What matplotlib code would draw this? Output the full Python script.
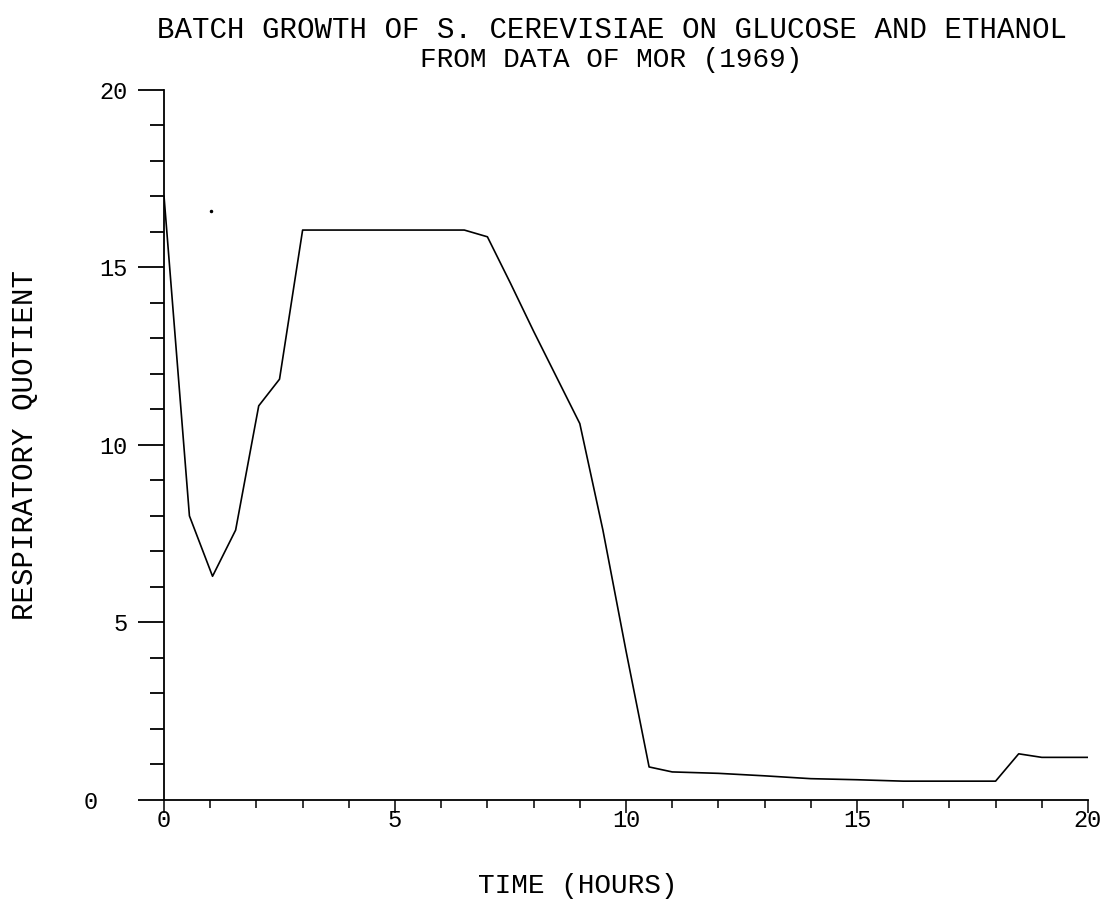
import matplotlib
matplotlib.use("Agg")
import matplotlib.pyplot as plt
import matplotlib.transforms as mtransforms
from matplotlib.ticker import MultipleLocator

# respiratory quotient vs time
hours = [0.0, 0.55, 1.05, 1.55, 2.05, 2.5, 3.0, 4.0, 5.0, 6.0, 6.5, 7.0, 7.5, 8.0, 8.5,
         9.0, 9.5, 10.0, 10.5, 11.0, 12.0, 13.0, 14.0, 15.0, 16.0, 17.0, 18.0, 18.5, 19.0, 20.0]
rq = [17.0, 8.0, 6.3, 7.6, 11.1, 11.85, 16.05, 16.05, 16.05, 16.05, 16.05, 15.86, 14.55, 13.2, 11.9,
      10.6, 7.6, 4.2, 0.93, 0.79, 0.75, 0.68, 0.6, 0.57, 0.53, 0.53, 0.53, 1.3, 1.2, 1.2]

# stray single point in the upper left
dot_x = [1.02]
dot_y = [16.6]

x_ticks = [0, 5, 10, 15, 20]
y_ticks = [0, 5, 10, 15, 20]

font = "Liberation Mono"

fig = plt.figure(figsize=(11.12, 9.07), dpi=100)
ax = fig.add_axes([0.1475, 0.118, 0.8309, 0.783])

ax.plot(hours, rq, color="black", lw=1.2)
ax.plot(dot_x, dot_y, ".", color="black", ms=3)

ax.set_xlim(0, 20)
ax.set_ylim(0, 20)
ax.set_xticks(x_ticks)
ax.set_yticks(y_ticks)
ax.xaxis.set_minor_locator(MultipleLocator(1))
ax.yaxis.set_minor_locator(MultipleLocator(1))

for s in ["top", "right"]:
    ax.spines[s].set_visible(False)
ax.spines["left"].set_linewidth(1.3)
ax.spines["bottom"].set_linewidth(1.3)

ax.tick_params(axis="y", which="major", direction="out", length=19, width=1.3, pad=7)
ax.tick_params(axis="y", which="minor", direction="out", length=10, width=1.3)
ax.tick_params(axis="x", which="major", direction="out", length=9, width=1.1, pad=-2.5)
ax.tick_params(axis="x", which="minor", direction="out", length=6, width=1.1)

for lab in ax.get_xticklabels() + ax.get_yticklabels():
    lab.set_fontfamily(font)
    lab.set_fontsize(17)

# the "0" on the y axis sits further left in the original
zero = ax.get_yticklabels()[0]
zero.set_transform(zero.get_transform() +
                   mtransforms.ScaledTranslation(-0.3, 0, fig.dpi_scale_trans))

ax.set_xlabel("TIME (HOURS)", fontsize=20, family=font)
ax.set_ylabel("RESPIRATORY QUOTIENT", fontsize=21, family=font)
ax.xaxis.set_label_coords(0.448, -0.103)
ax.yaxis.set_label_coords(-0.135, 0.5)

fig.text(0.550, 0.967, "BATCH GROWTH OF S. CEREVISIAE ON GLUCOSE AND ETHANOL",
         ha="center", va="center", fontsize=21, family=font)
fig.text(0.550, 0.934, "FROM DATA OF MOR (1969)",
         ha="center", va="center", fontsize=20, family=font)

fig.savefig("out.png", dpi=100)
